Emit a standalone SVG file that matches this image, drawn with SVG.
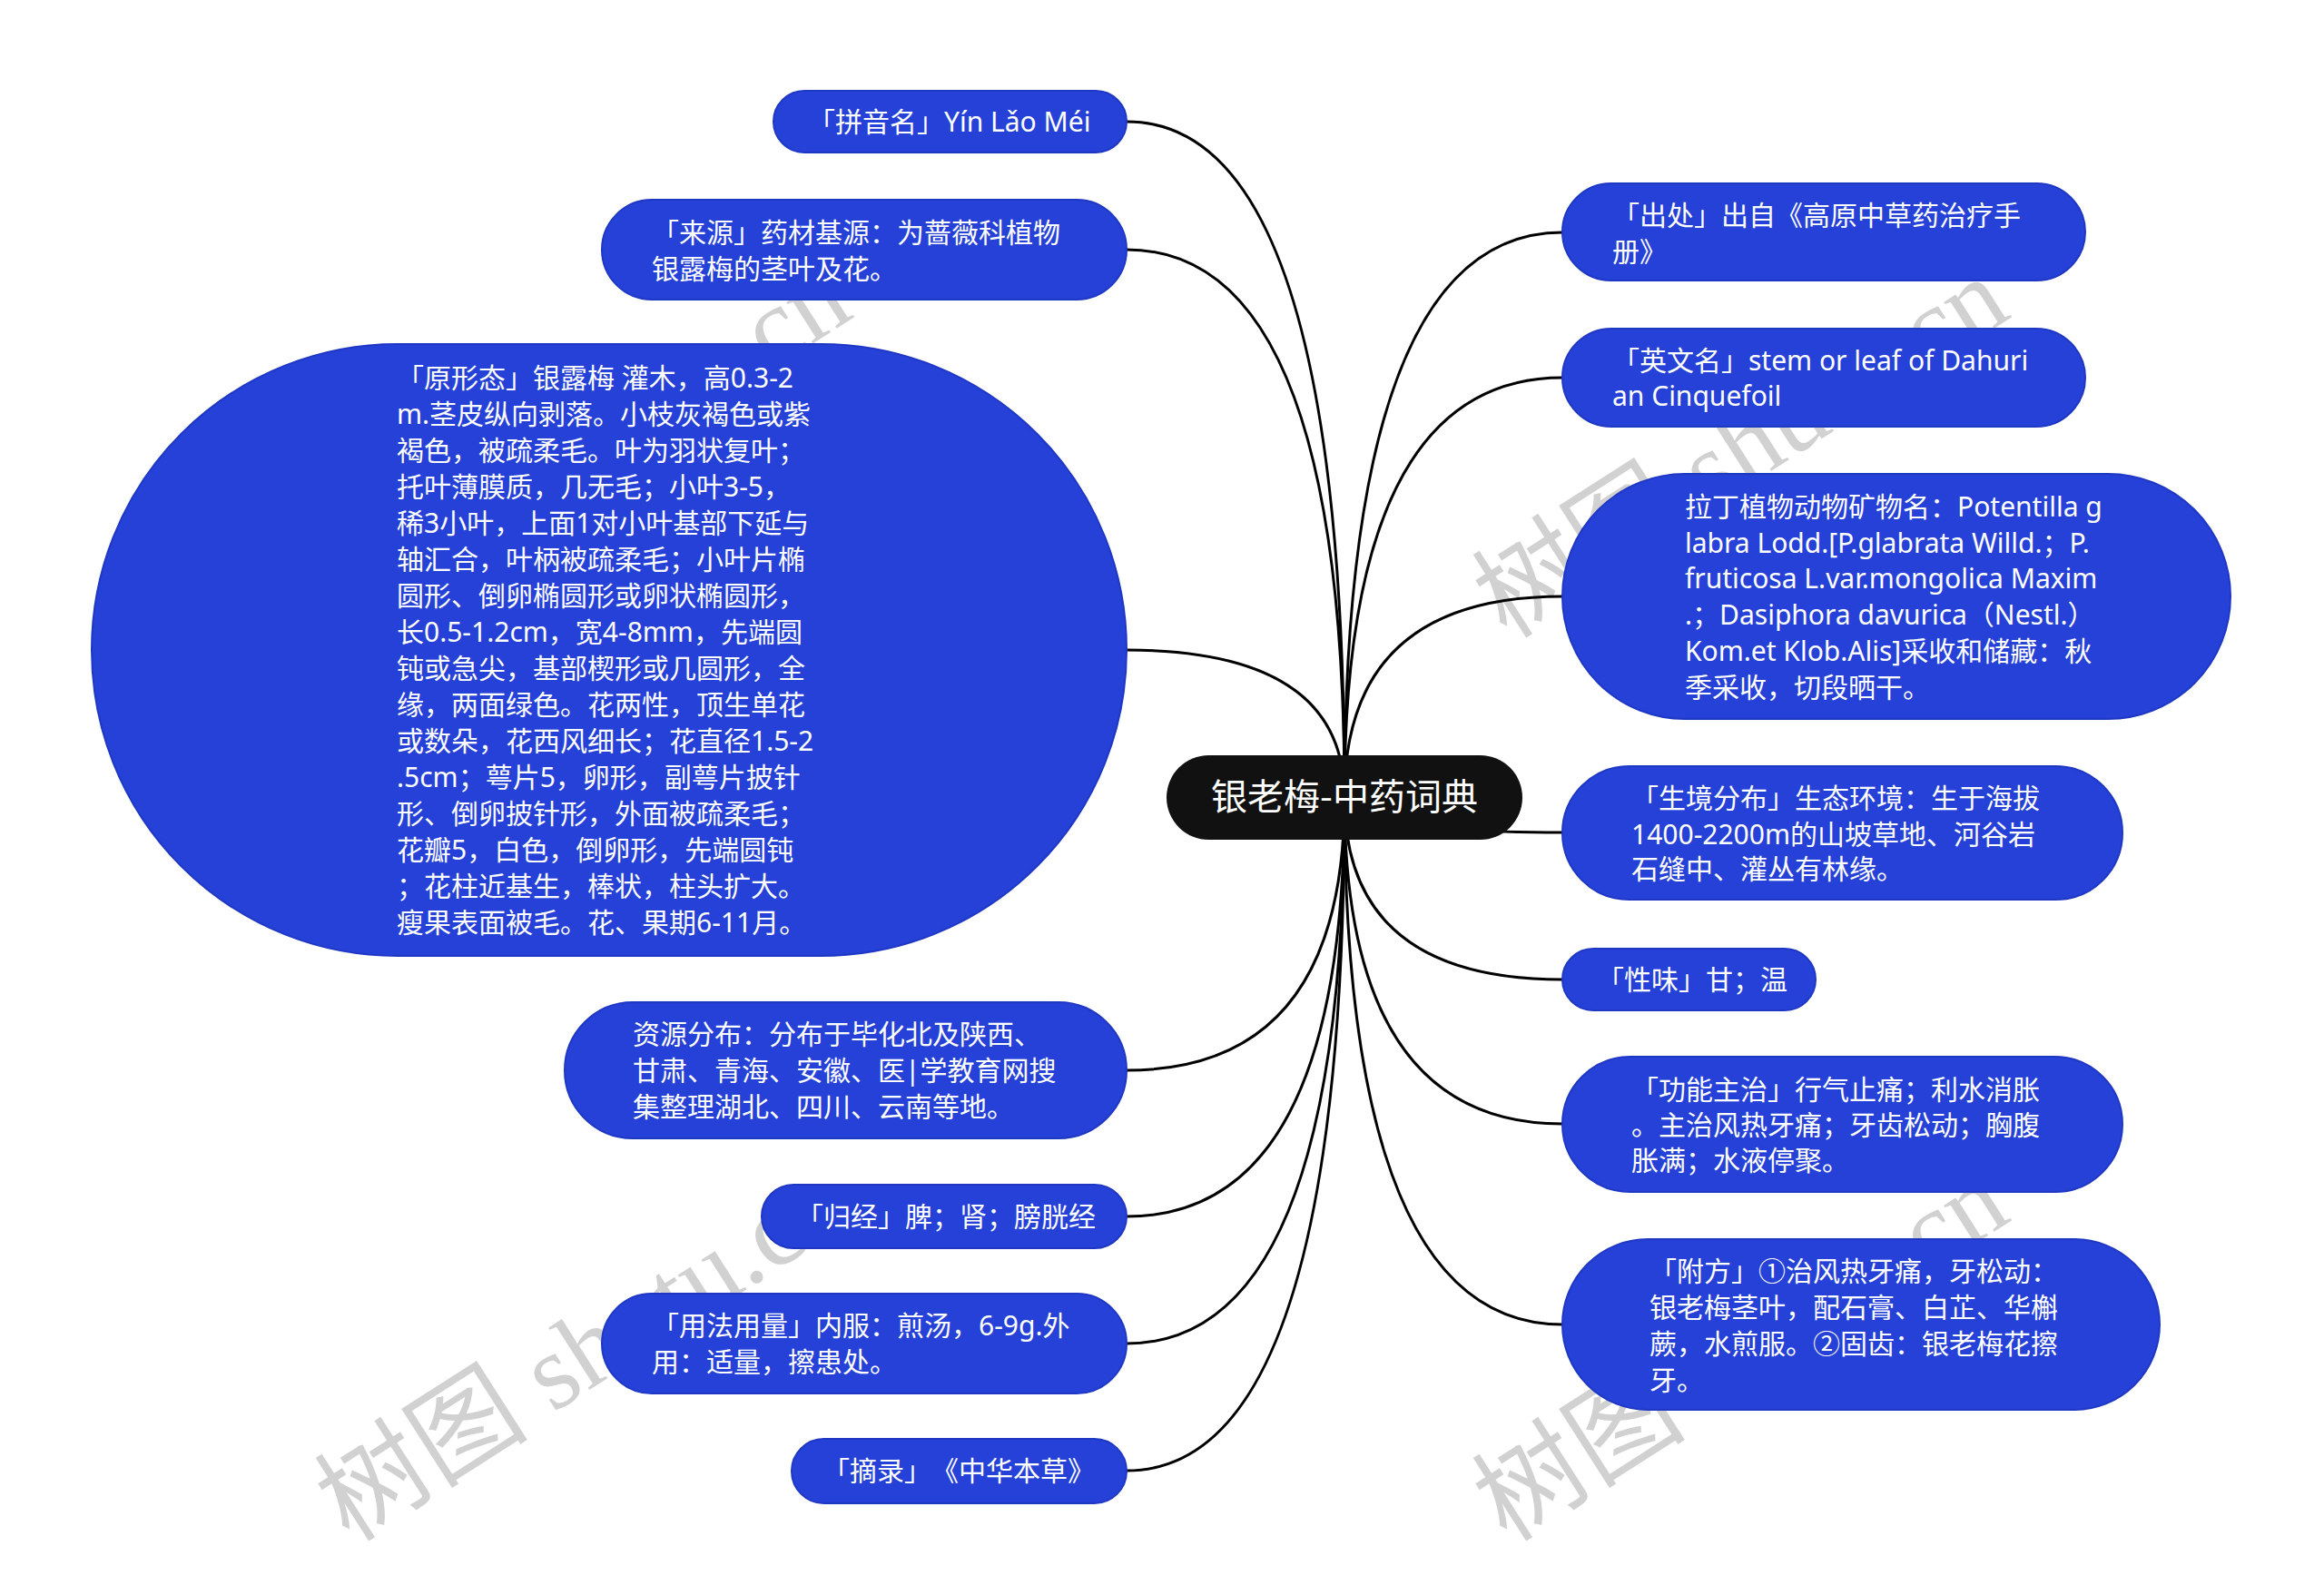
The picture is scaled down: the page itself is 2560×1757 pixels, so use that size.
<svg xmlns="http://www.w3.org/2000/svg" width="2560" height="1757" viewBox="0 0 2560 1757">
<style>
svg{text-spacing-trim:space-all}
.bg{fill:#ffffff}
.link{fill:none;stroke:#000000;stroke-width:3}
.node rect{fill:#2641d8;stroke:#1f38c4;stroke-width:2}
.node text{fill:#ffffff;font-family:"Noto Sans","Noto Sans CJK SC",sans-serif;font-size:30px;text-spacing-trim:space-all}
.root rect{fill:#111111}
.root text{fill:#ffffff;font-family:"Noto Sans CJK SC","Noto Sans",sans-serif;font-size:40px;text-anchor:middle}
.wm{fill:#9a9a9a;opacity:0.45;font-family:"Liberation Serif","Noto Sans CJK SC",serif;font-size:118px}
</style>
<rect class="bg" x="0" y="0" width="2560" height="1757"/>
<g id="watermarks">
<text class="wm" transform="translate(385,705) rotate(-32.6)">树图 shutu.cn</text>
<text class="wm" transform="translate(1660,705) rotate(-32.6)">树图 shutu.cn</text>
<text class="wm" transform="translate(385,1700) rotate(-32.6)">树图 shutu.cn</text>
<text class="wm" transform="translate(1660,1700) rotate(-32.6)">树图 shutu.cn</text>
</g>
<g id="connectors">
<path class="link" d="M1481,878 Q1481,134 1241,134"/>
<path class="link" d="M1481,878 Q1481,275 1241,275"/>
<path class="link" d="M1481,878 Q1481,716 1241,716"/>
<path class="link" d="M1481,878 Q1481,1179 1241,1179"/>
<path class="link" d="M1481,878 Q1481,1340 1241,1340"/>
<path class="link" d="M1481,878 Q1481,1480 1241,1480"/>
<path class="link" d="M1481,878 Q1481,1620 1241,1620"/>
<path class="link" d="M1481,878 Q1481,256 1721,256"/>
<path class="link" d="M1481,878 Q1481,416 1721,416"/>
<path class="link" d="M1481,878 Q1481,657 1721,657"/>
<path class="link" d="M1481,878 Q1481,917 1721,917"/>
<path class="link" d="M1481,878 Q1481,1079 1721,1079"/>
<path class="link" d="M1481,878 Q1481,1238 1721,1238"/>
<path class="link" d="M1481,878 Q1481,1459 1721,1459"/>
</g>
<g id="node-pinyin" class="node">
<rect x="852" y="100" width="389" height="68" rx="34"/>
<text x="890" y="145">「拼音名」Yín Lǎo Méi</text>
</g>
<g id="node-laiyuan" class="node">
<rect x="663" y="220" width="578" height="110" rx="55"/>
<text x="718" y="267">「来源」药材基源：为蔷薇科植物</text>
<text x="718" y="307">银露梅的茎叶及花。</text>
</g>
<g id="node-yuanxingtai" class="node">
<rect x="101" y="379" width="1140" height="674" rx="337"/>
<text x="437" y="427">「原形态」银露梅 灌木，高0.3-2</text>
<text x="437" y="467">m.茎皮纵向剥落。小枝灰褐色或紫</text>
<text x="437" y="507">褐色，被疏柔毛。叶为羽状复叶；</text>
<text x="437" y="547">托叶薄膜质，几无毛；小叶3-5，</text>
<text x="437" y="587">稀3小叶，上面1对小叶基部下延与</text>
<text x="437" y="627">轴汇合，叶柄被疏柔毛；小叶片椭</text>
<text x="437" y="667">圆形、倒卵椭圆形或卵状椭圆形，</text>
<text x="437" y="707">长0.5-1.2cm，宽4-8mm，先端圆</text>
<text x="437" y="747">钝或急尖，基部楔形或几圆形，全</text>
<text x="437" y="787">缘，两面绿色。花两性，顶生单花</text>
<text x="437" y="827">或数朵，花西风细长；花直径1.5-2</text>
<text x="437" y="867">.5cm；萼片5，卵形，副萼片披针</text>
<text x="437" y="907">形、倒卵披针形，外面被疏柔毛；</text>
<text x="437" y="947">花瓣5，白色，倒卵形，先端圆钝</text>
<text x="437" y="987">；花柱近基生，棒状，柱头扩大。</text>
<text x="437" y="1027">瘦果表面被毛。花、果期6-11月。</text>
</g>
<g id="node-ziyuan" class="node">
<rect x="622" y="1104" width="619" height="150" rx="75"/>
<text x="697" y="1150">资源分布：分布于毕化北及陕西、</text>
<text x="697" y="1190">甘肃、青海、安徽、医|学教育网搜</text>
<text x="697" y="1230">集整理湖北、四川、云南等地。</text>
</g>
<g id="node-guijing" class="node">
<rect x="839" y="1305" width="402" height="70" rx="35"/>
<text x="877" y="1351">「归经」脾；肾；膀胱经</text>
</g>
<g id="node-yongfa" class="node">
<rect x="663" y="1425" width="578" height="110" rx="55"/>
<text x="718" y="1471">「用法用量」内服：煎汤，6-9g.外</text>
<text x="718" y="1511">用：适量，擦患处。</text>
</g>
<g id="node-zhailu" class="node">
<rect x="872" y="1585" width="369" height="71" rx="35.5"/>
<text x="906" y="1631">「摘录」《中华本草》</text>
</g>
<g id="node-chuchu" class="node">
<rect x="1721" y="202" width="576" height="107" rx="53.5"/>
<text x="1776" y="248">「出处」出自《高原中草药治疗手</text>
<text x="1776" y="288">册》</text>
</g>
<g id="node-yingwen" class="node">
<rect x="1721" y="362" width="576" height="108" rx="54"/>
<text x="1776" y="408">「英文名」stem or leaf of Dahuri</text>
<text x="1776" y="447">an Cinquefoil</text>
</g>
<g id="node-lading" class="node">
<rect x="1721" y="522" width="736" height="270" rx="135"/>
<text x="1856" y="569">拉丁植物动物矿物名：Potentilla g</text>
<text x="1856" y="609">labra Lodd.[P.glabrata Willd.；P.</text>
<text x="1856" y="648">fruticosa L.var.mongolica Maxim</text>
<text x="1856" y="688">.；Dasiphora davurica（Nestl.）</text>
<text x="1856" y="728">Kom.et Klob.Alis]采收和储藏：秋</text>
<text x="1856" y="768">季采收，切段晒干。</text>
</g>
<g id="node-shengjing" class="node">
<rect x="1721" y="844" width="617" height="147" rx="73.5"/>
<text x="1797" y="890">「生境分布」生态环境：生于海拔</text>
<text x="1797" y="930">1400-2200m的山坡草地、河谷岩</text>
<text x="1797" y="968">石缝中、灌丛有林缘。</text>
</g>
<g id="node-xingwei" class="node">
<rect x="1721" y="1045" width="279" height="68" rx="34"/>
<text x="1759" y="1090">「性味」甘；温</text>
</g>
<g id="node-gongneng" class="node">
<rect x="1721" y="1164" width="617" height="149" rx="74.5"/>
<text x="1797" y="1211">「功能主治」行气止痛；利水消胀</text>
<text x="1797" y="1250">。主治风热牙痛；牙齿松动；胸腹</text>
<text x="1797" y="1289">胀满；水液停聚。</text>
</g>
<g id="node-fufang" class="node">
<rect x="1721" y="1365" width="658" height="188" rx="94"/>
<text x="1817" y="1411">「附方」①治风热牙痛，牙松动：</text>
<text x="1817" y="1451">银老梅茎叶，配石膏、白芷、华槲</text>
<text x="1817" y="1491">蕨，水煎服。②固齿：银老梅花擦</text>
<text x="1817" y="1531">牙。</text>
</g>
<g id="node-root" class="root">
<rect x="1285" y="832" width="392" height="93" rx="46.5"/>
<text x="1481" y="892">银老梅-中药词典</text>
</g>
</svg>
